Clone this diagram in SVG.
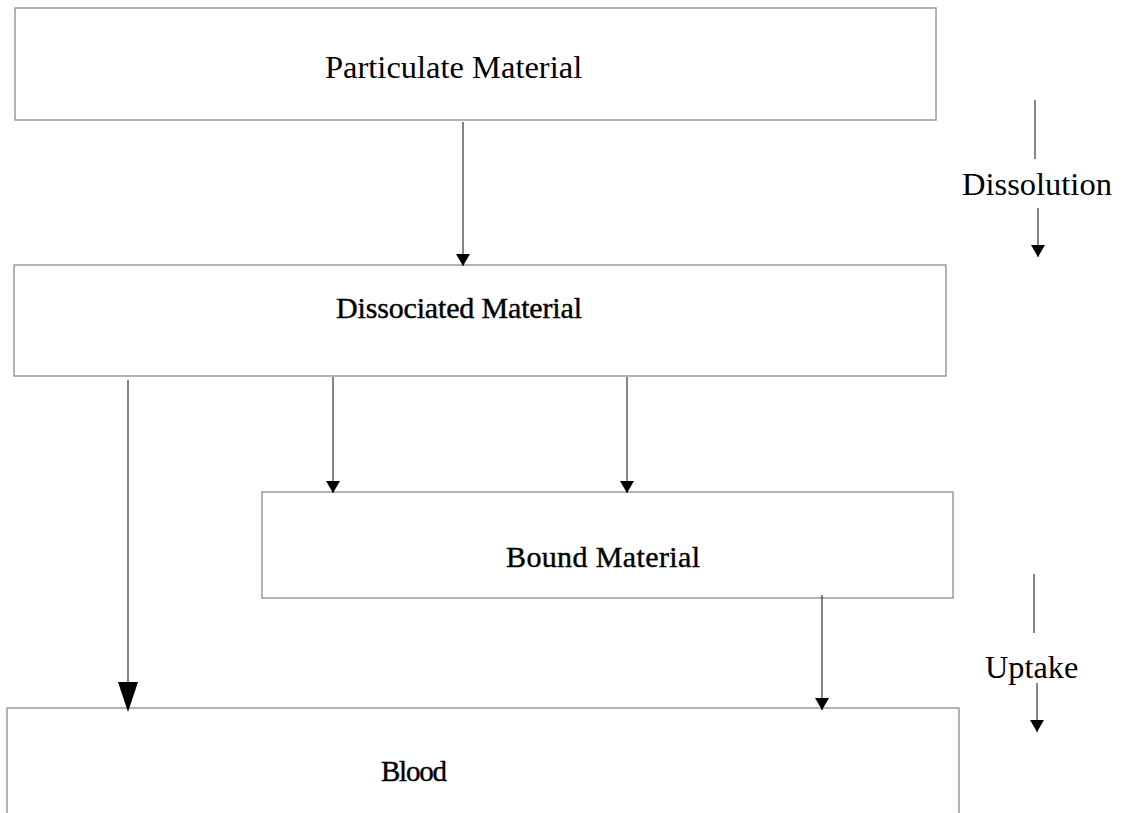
<svg xmlns="http://www.w3.org/2000/svg" width="1125" height="813" viewBox="0 0 1125 813">
<style>
.box{fill:#fff;stroke:#8a8a8a;stroke-width:1.3}
.t{font-family:"Liberation Serif","Times New Roman",serif;fill:#000}
.h{stroke:#000;stroke-width:0.4}
.c{stroke:#333;stroke-width:1.2;fill:none}
</style>
<defs>
<marker id="ah" markerUnits="userSpaceOnUse" markerWidth="12" markerHeight="14" refX="12" refY="7" orient="auto" viewBox="0 0 12 14"><path d="M0,0 L12,7 L0,14 Z" fill="#000"/></marker>
</defs>
<rect width="1125" height="813" fill="#fff"/>
<g id="particulate"><rect class="box" x="15" y="8" width="921" height="112"/><text class="t" x="325" y="78" font-size="32.5">Particulate Material</text></g>
<g id="dissociated"><rect class="box" x="14" y="265" width="932" height="111"/><text class="t h" x="336" y="318" font-size="30" textLength="246">Dissociated Material</text></g>
<g id="bound"><rect class="box" x="262" y="492" width="691" height="106"/><text class="t h" x="506" y="567" font-size="30" textLength="194">Bound Material</text></g>
<g id="blood"><rect class="box" x="7" y="708" width="952" height="120"/><text class="t h" x="381" y="781" font-size="29" textLength="66">Blood</text></g>
<g id="connectors">
<line class="c" x1="463" y1="122" x2="463" y2="266" marker-end="url(#ah)"/>
<line class="c" x1="128" y1="380" x2="128" y2="682" stroke="#777"/>
<path d="M118,682 L138,682 L128,712 Z" fill="#000"/>
<line class="c" x1="333" y1="377" x2="333" y2="493" marker-end="url(#ah)"/>
<line class="c" x1="627" y1="377" x2="627" y2="493" marker-end="url(#ah)"/>
<line class="c" x1="822" y1="595" x2="822" y2="710" stroke="#666" marker-end="url(#ah)"/>
</g>
<g id="dissolution">
<line class="c" x1="1035" y1="100" x2="1035" y2="159"/>
<text class="t" x="962" y="195" font-size="32.5">Dissolution</text>
<line class="c" x1="1038" y1="208" x2="1038" y2="257" marker-end="url(#ah)"/>
</g>
<g id="uptake">
<line class="c" x1="1034" y1="574" x2="1034" y2="633"/>
<text class="t" x="985" y="678" font-size="32.3">Uptake</text>
<line class="c" x1="1037" y1="683" x2="1037" y2="732" marker-end="url(#ah)"/>
</g>
</svg>
